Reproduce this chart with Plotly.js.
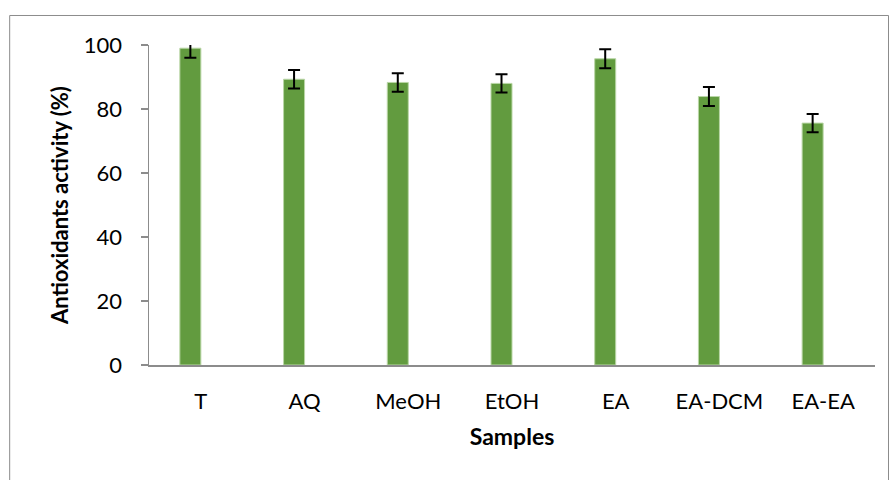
<!DOCTYPE html>
<html>
<head>
<meta charset="utf-8">
<script src="https://cdn.plot.ly/plotly-3.0.1.min.js"></script>
<style>
  html, body { margin: 0; padding: 0; background: #fff; }
  #chart { width: 889px; height: 480px; }
</style>
</head>
<body>
<div id="chart"></div>
<script>
// Data
const samples = ['T', 'AQ', 'MeOH', 'EtOH', 'EA', 'EA-DCM', 'EA-EA'];
const activity = [99.0, 89.3, 88.3, 88.0, 95.7, 83.9, 75.6];
const activityError = [3.0, 2.9, 2.9, 2.85, 2.95, 3.0, 2.85];
const emptySeries = [null, null, null, null, null, null, null];
const yTicks = [0, 20, 40, 60, 80, 100];

const traces = [
  {
    type: 'bar',
    x: samples,
    y: activity,
    marker: { color: '#629B3F', line: { color: '#b9d6a6', width: 1 } },
    error_y: { type: 'data', array: activityError, visible: true, color: '#000000', thickness: 2, width: 6 },
    showlegend: false,
    hoverinfo: 'x+y'
  },
  {
    type: 'bar',
    x: samples,
    y: emptySeries,
    marker: { color: '#629B3F' },
    showlegend: false,
    hoverinfo: 'skip'
  }
];

const layout = {
  width: 889,
  height: 480,
  margin: { l: 149, r: 14, t: 45, b: 115 },
  paper_bgcolor: '#ffffff',
  plot_bgcolor: '#ffffff',
  barmode: 'group',
  bargap: 0.595,
  bargroupgap: 0,
  font: { family: 'Lato, "Open Sans", sans-serif', size: 22, color: '#000000' },
  xaxis: {
    type: 'category',
    showline: true,
    linecolor: '#8c8c8c',
    linewidth: 2,
    ticks: '',
    showgrid: false,
    zeroline: false,
    ticklabelstandoff: 16,
    tickfont: { family: 'Lato, sans-serif', size: 22, color: '#000000' },
    title: { text: 'Samples', font: { family: 'Lato, sans-serif', size: 23, color: '#000000', weight: 'bold' }, standoff: 15 }
  },
  yaxis: {
    range: [0, 100],
    tickvals: yTicks,
    ticktext: yTicks.map(String),
    showline: true,
    linecolor: '#8c8c8c',
    linewidth: 1.5,
    ticks: 'outside',
    ticklen: 7,
    tickwidth: 1.5,
    tickcolor: '#8c8c8c',
    showgrid: false,
    zeroline: false,
    ticklabelstandoff: 14,
    tickfont: { family: 'Lato, sans-serif', size: 22, color: '#000000' },
    title: { text: 'Antioxidants activity (%)', font: { family: 'Lato, sans-serif', size: 22, color: '#000000', weight: 'bold' }, standoff: 9 }
  },
  shapes: [
    {
      type: 'rect', xref: 'paper', yref: 'paper',
      x0: -0.1919, x1: 1.0186, y0: -0.5, y1: 1.0922,
      line: { color: '#8c8c8c', width: 1 },
      fillcolor: 'rgba(0,0,0,0)',
      layer: 'below'
    }
  ]
};

Plotly.newPlot('chart', traces, layout, { displayModeBar: false, staticPlot: true });
</script>
</body>
</html>
